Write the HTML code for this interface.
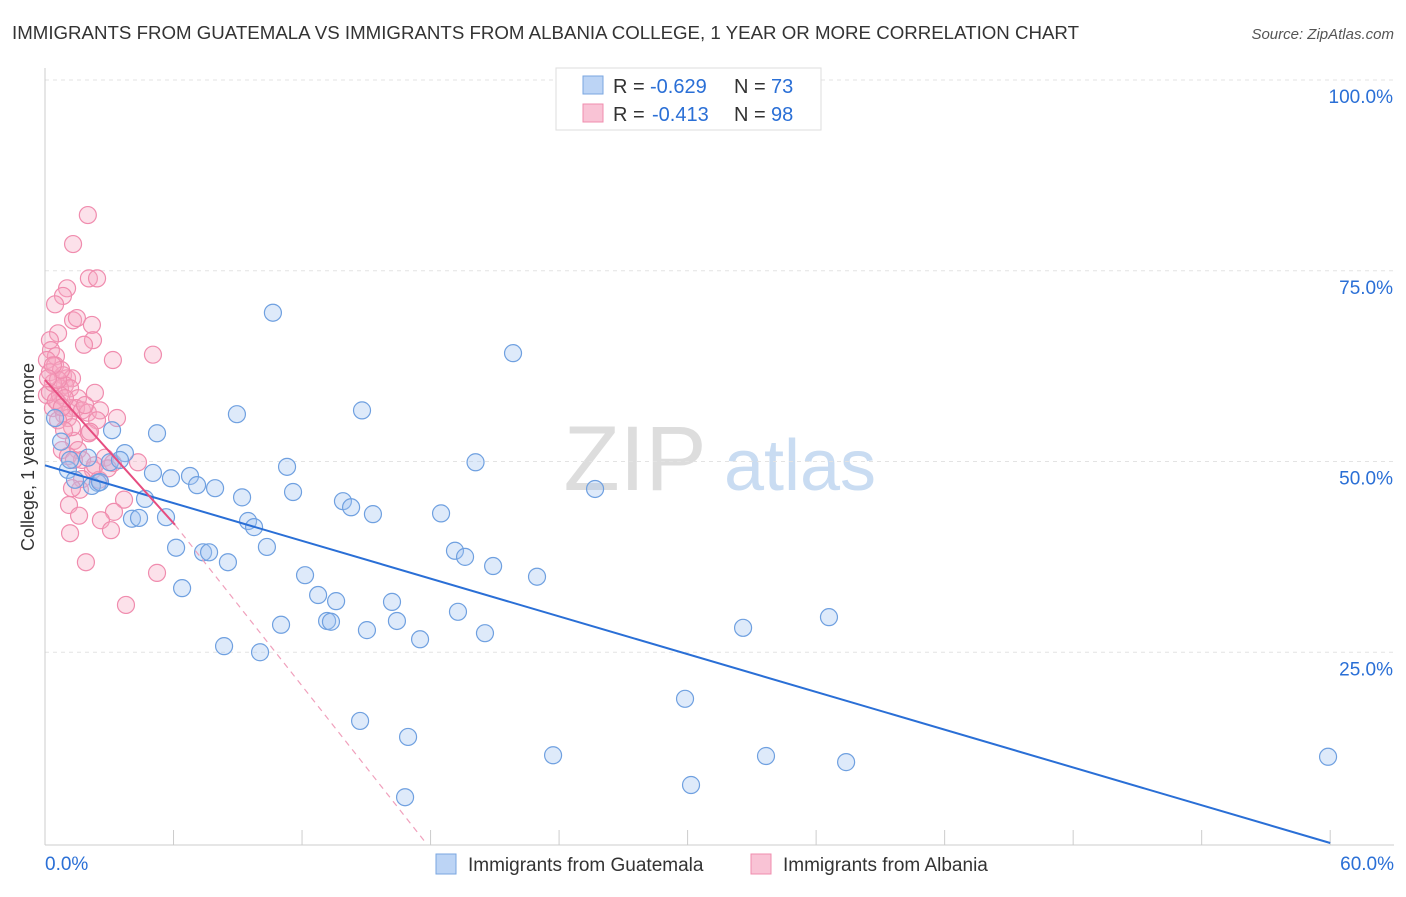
<!DOCTYPE html>
<html><head><meta charset="utf-8"><style>
body{margin:0;background:#fff;font-family:"Liberation Sans",sans-serif;}
svg text{font-family:"Liberation Sans",sans-serif;}
</style></head><body>
<svg id="chart" width="1406" height="892" viewBox="0 0 1406 892" xmlns="http://www.w3.org/2000/svg">
<text x="12" y="39" font-size="18" fill="#333" textLength="1067" lengthAdjust="spacingAndGlyphs">IMMIGRANTS FROM GUATEMALA VS IMMIGRANTS FROM ALBANIA COLLEGE, 1 YEAR OR MORE CORRELATION CHART</text>
<text x="1394" y="39" font-size="15" fill="#555" text-anchor="end" font-style="italic">Source: ZipAtlas.com</text>
<g>
<text x="635" y="490" font-size="92" fill="#ddd" font-family="Liberation Serif" text-anchor="middle">ZIP</text>
<text x="800" y="490" font-size="72" fill="#c9dcf2" text-anchor="middle">atlas</text>
</g>
<g id="grid"></g>
<g id="axes"></g>
<g id="pts"></g>
<g id="lines"></g>
<g>
<rect x="556" y="68" width="265" height="62" fill="#fff" stroke="#ddd"/>
<rect x="583" y="76" width="20" height="18" fill="#bcd4f5" stroke="#7aa6e0"/>
<rect x="583" y="104" width="20" height="18" fill="#f9c3d5" stroke="#f08cae"/>
<text x="613" y="93" font-size="20" fill="#333">R =</text>
<text x="650" y="93" font-size="20" fill="#2a6fd6">-0.629</text>
<text x="734" y="93" font-size="20" fill="#333">N =</text>
<text x="771" y="93" font-size="20" fill="#2a6fd6">73</text>
<text x="613" y="121" font-size="20" fill="#333">R =</text>
<text x="652" y="121" font-size="20" fill="#2a6fd6">-0.413</text>
<text x="734" y="121" font-size="20" fill="#333">N =</text>
<text x="771" y="121" font-size="20" fill="#2a6fd6">98</text>
</g>
<g>
<rect x="436" y="854" width="20" height="20" fill="#bcd4f5" stroke="#7aa6e0"/>
<text x="468" y="871" font-size="19" fill="#333">Immigrants from Guatemala</text>
<rect x="751" y="854" width="20" height="20" fill="#f9c3d5" stroke="#f08cae"/>
<text x="783" y="871" font-size="19" fill="#333">Immigrants from Albania</text>
</g>
<text transform="translate(34,457) rotate(-90)" font-size="18" fill="#333" text-anchor="middle">College, 1 year or more</text>
</svg>
<script>
const yTicks=[25,50,75,100];
const yTickLabels=["25.0%","50.0%","75.0%","100.0%"];
const xTickLabels=["0.0%","60.0%"];
const blueX=[10.64,21.85,8.96,14.8,3.13,5.23,0.75,3.73,2.0,11.3,20.1,5.04,6.77,5.88,7.1,7.94,2.47,2.19,11.58,9.2,4.67,13.91,14.29,15.31,18.49,25.68,4.06,4.39,5.65,9.48,9.76,6.12,7.38,7.66,8.54,10.36,19.14,19.61,20.92,22.97,12.14,6.4,12.75,13.59,16.2,19.28,13.17,13.35,15.03,16.43,17.51,20.54,11.02,8.36,10.04,32.59,36.6,29.88,14.71,16.95,23.72,33.66,37.4,30.16,16.81,59.9,1.07,0.47,1.17,2.57,3.03,3.5,1.4];
const blueY=[69.5,64.2,56.2,56.7,54.1,53.7,52.6,51.1,50.5,49.3,49.9,48.5,48.1,47.8,46.9,46.5,47.2,46.8,46.0,45.3,45.1,44.8,44.0,43.1,43.2,46.4,42.5,42.6,42.7,42.2,41.4,38.7,38.1,38.1,36.8,38.8,38.3,37.5,36.3,34.9,35.1,33.4,32.5,31.7,31.6,30.3,29.1,29.0,27.9,29.1,26.7,27.5,28.6,25.8,25.0,28.2,29.6,18.9,16.0,13.9,11.5,11.4,10.6,7.6,6.0,11.3,48.9,55.7,50.2,47.3,49.9,50.2,47.6];
const pinkX=[2.0,1.31,2.05,2.43,1.03,0.84,0.47,1.31,1.49,2.19,2.24,1.82,0.61,0.23,0.28,0.51,0.09,0.47,0.23,0.84,1.03,1.26,0.93,0.7,1.17,2.33,1.54,0.61,0.37,1.21,1.45,1.73,2.0,2.57,3.36,0.89,1.07,2.43,2.05,1.35,0.79,1.54,1.07,1.73,2.8,3.17,4.34,2.24,1.73,2.52,1.63,1.12,3.69,3.22,2.61,1.59,1.17,3.08,1.91,5.23,3.78,5.04,3.17,0.09,0.23,0.61,1.26,0.7,0.93,0.37,0.61,0.75,0.37,0.14,0.51,0.79,1.87,2.1,1.35,2.33,2.94,0.89,1.26];
const pinkY=[82.3,78.5,74.0,74.0,72.7,71.7,70.6,68.5,68.8,67.9,65.9,65.3,66.8,65.9,64.6,63.8,63.3,62.6,61.7,61.3,60.9,60.9,60.0,59.6,59.6,59.0,58.3,57.7,57.0,57.0,57.0,56.7,56.4,56.7,55.7,56.1,55.7,55.4,53.7,52.7,51.5,51.5,50.7,50.2,50.5,49.8,49.9,48.9,47.7,47.6,46.3,44.3,45.0,43.4,42.3,42.9,40.6,41.0,36.8,35.4,31.2,64.0,63.3,58.7,59.1,55.4,54.5,58.7,58.3,60.3,60.7,62.0,62.6,60.9,58.0,57.1,57.4,53.9,50.2,49.5,49.1,54.1,46.5];
const blueTrend=[49.5,0];
const pinkTrend=[60.7,41.7,0.3];
const pinkTrendX=[0,6.07,17.7];

const NS="http://www.w3.org/2000/svg";
const X=v=>45+v*21.42, Y=v=>843-v*7.63;
function mk(tag,attrs,parent){const e=document.createElementNS(NS,tag);for(const k in attrs)e.setAttribute(k,attrs[k]);document.getElementById(parent).appendChild(e);return e;}
yTicks.forEach((t,i)=>{
 const g=mk('line',{x1:45,x2:1394,y1:Y(t),y2:Y(t),stroke:'#e3e3e3','stroke-dasharray':'4,4'},'grid');
 
 
 const l=mk('text',{x:1393,y:Y(t)+23,'font-size':19,fill:'#2a6fd6','text-anchor':'end'},'axes');
 l.textContent=yTickLabels[i];
 
 
});
mk('line',{x1:45,x2:45,y1:68,y2:845,stroke:'#ccc'},'axes');
mk('line',{x1:45,x2:1394,y1:845,y2:845,stroke:'#ccc'},'axes');
for(let i=0;i<=10;i++){mk('line',{x1:X(i*6),x2:X(i*6),y1:830,y2:845,stroke:'#ccc'},'axes');}
[[0,45,'start'],[60,1394,'end']].forEach((d,i)=>{
 const t=mk('text',{x:d[1],y:870,'font-size':19,fill:'#2a6fd6','text-anchor':d[2]},'axes');
 t.textContent=xTickLabels[i];
 
 
});
pinkX.forEach((x,i)=>{
 const c=mk('circle',{cx:X(x),cy:Y(pinkY[i]),r:8.5,fill:'rgba(246,170,196,0.35)',stroke:'#f08cae','stroke-width':1.2},'pts');
 
 
});
blueX.forEach((x,i)=>{
 const c=mk('circle',{cx:X(x),cy:Y(blueY[i]),r:8.5,fill:'rgba(160,195,240,0.35)',stroke:'#6fa0e0','stroke-width':1.2},'pts');
 
 
});
const bl=mk('line',{x1:X(0),y1:Y(blueTrend[0]),x2:X(60),y2:Y(blueTrend[1]),stroke:'#2a6fd6','stroke-width':2},'lines');


const pd=mk('line',{x1:X(pinkTrendX[1]),y1:Y(pinkTrend[1]),x2:X(pinkTrendX[2]),y2:Y(pinkTrend[2]),stroke:'#f0a0bc','stroke-width':1.2,'stroke-dasharray':'6,5'},'lines');


const pl=mk('line',{x1:X(pinkTrendX[0]),y1:Y(pinkTrend[0]),x2:X(pinkTrendX[1]),y2:Y(pinkTrend[1]),stroke:'#e64d80','stroke-width':2},'lines');


</script>
</body></html>
